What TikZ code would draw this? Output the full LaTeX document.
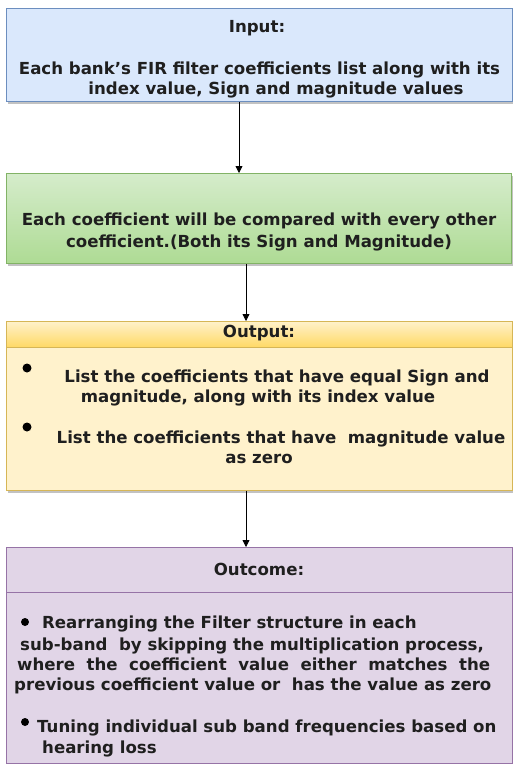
\documentclass[tikz,border=0pt]{standalone}
\usepackage{fontspec}
\setmainfont{DejaVu Sans}
\usetikzlibrary{shadows,arrows.meta}
\definecolor{bluefill}{HTML}{DAE8FC}
\definecolor{blueline}{HTML}{6C8EBF}
\definecolor{greentop}{HTML}{D5ECCB}
\definecolor{greenbot}{HTML}{AEDB94}
\definecolor{greenline}{HTML}{82B366}
\definecolor{yellowfill}{HTML}{FFF2CC}
\definecolor{yellowhead}{HTML}{FFD966}
\definecolor{yellowline}{HTML}{D6B656}
\definecolor{purplefill}{HTML}{E1D5E7}
\definecolor{purpleline}{HTML}{9673A6}
\tikzset{
  box/.style={rectangle, anchor=north west, inner sep=0pt, line width=0.8pt,
    drop shadow={shadow xshift=2pt, shadow yshift=-3pt, opacity=0.4, fill=black!60}},
  txt/.style={inner sep=0pt, font=\fontsize{16.6}{18}\selectfont\bfseries, text=black!88},
  arr/.style={-{Triangle[length=7pt,width=7pt]}, line width=0.8pt, black},
}
\begin{document}
\begin{tikzpicture}[x=1pt,y=-1pt]
\useasboundingbox (0,0) rectangle (513,764);
% box 1
\node[box, draw=blueline, fill=bluefill, minimum width=506pt, minimum height=93pt] (b1) at (6,8) {};
\node[txt, anchor=base] (t1a) at (257,32) {Input:};
\node[txt, anchor=base] (t1b) at (259.5,74) {Each bank's FIR filter coefficients list along with its};
\node[txt, anchor=base] (t1c) at (276,94) {index value, Sign and magnitude values};
% box 2
\node[box, draw=greenline, top color=greentop, bottom color=greenbot, minimum width=505pt, minimum height=90pt] (b2) at (6,173) {};
\node[txt, anchor=base] (t2a) at (259,225) {Each coefficient will be compared with every other};
\node[txt, anchor=base] (t2b) at (259,247) {coefficient.(Both its Sign and Magnitude)};
% box 3
\node[box, fill=yellowfill, minimum width=506pt, minimum height=169pt] (b3) at (6,321) {};
\fill[top color=yellowfill, bottom color=yellowhead] (b3.north west) rectangle ([yshift=-26pt]b3.north east);
\draw[yellowline, line width=0.8pt] ([yshift=-26pt]b3.north west) -- ([yshift=-26pt]b3.north east);
\draw[yellowline, line width=0.8pt] (b3.north west) rectangle (b3.south east);
\node[txt, anchor=base] (t3a) at (259,337) {Output:};
\fill (27,368) circle (4.5pt);
\node[txt, anchor=base] (t3b) at (277,382) {List the coefficients that have equal Sign and};
\node[txt, anchor=base] (t3c) at (258,402) {magnitude, along with its index value};
\fill (27,427) circle (4.5pt);
\node[txt, anchor=base] (t3d) at (281,443) {List the coefficients that have\ \ magnitude value};
\node[txt, anchor=base] (t3e) at (259,463) {as zero};
% box 4
\node[box, fill=purplefill, draw=purpleline, minimum width=506pt, minimum height=216pt] (b4) at (6,547) {};
\draw[purpleline, line width=0.8pt] ([yshift=-45pt]b4.north west) -- ([yshift=-45pt]b4.north east);
\node[txt, anchor=base] (t4a) at (259,575) {Outcome:};
\fill (25,622) circle (4pt);
\node[txt, anchor=base west] (t4b) at (42,628) {Rearranging the Filter structure in each};
\node[txt, anchor=base west] (t4c) at (20,650) {sub-band\ \ by skipping the multiplication process,};
\node[txt, anchor=base west] (t4d) at (17,670) {where\ \ the\ \ coefficient\ \ value\ \ either\ \ matches\ \ the};
\node[txt, anchor=base west] (t4e) at (14,690) {previous coefficient value or\ \ has the value as zero};
\fill (25,722) circle (4pt);
\node[txt, anchor=base west] (t4f) at (37,732) {Tuning individual sub band frequencies based on};
\node[txt, anchor=base west] (t4g) at (42,753) {hearing loss};
% arrows
\coordinate (xa) at (239,0);
\coordinate (xb) at (246,0);
\draw[arr] (xa |- b1.south) -- (xa |- b2.north);
\draw[arr] (xb |- b2.south) -- (xb |- b3.north);
\draw[arr] (xb |- b3.south) -- (xb |- b4.north);
\end{tikzpicture}
\end{document}
